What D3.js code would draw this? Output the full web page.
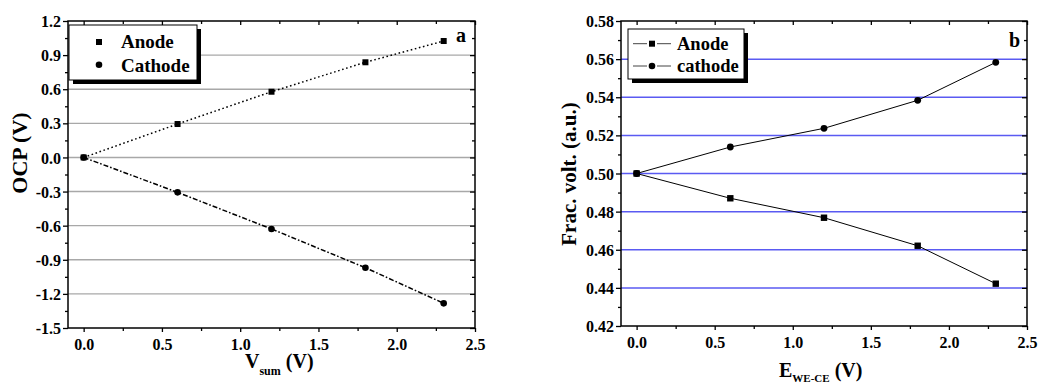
<!DOCTYPE html>
<html><head><meta charset="utf-8">
<script src="https://cdn.jsdelivr.net/npm/d3@7"></script>
<style>
body{margin:0;background:#fff}
svg{display:block}
</style></head>
<body><svg id="chart" width="1038" height="385"></svg>
<script>
// ---- data ----
const xValues = [0, 0.6, 1.2, 1.8, 2.3];
const ocpAnode = [0, 0.294, 0.578, 0.837, 1.024];
const ocpCathode = [0, -0.307, -0.629, -0.97, -1.283];
const fracAnode = [0.5, 0.487, 0.4768, 0.4621, 0.4422];
const fracCathode = [0.5, 0.5139, 0.5237, 0.5384, 0.5583];
const xTicks = [0, 0.5, 1.0, 1.5, 2.0, 2.5];
const xMinorTicks = [0.25, 0.75, 1.25, 1.75, 2.25];
const ocpTicks = [-1.5, -1.2, -0.9, -0.6, -0.3, 0, 0.3, 0.6, 0.9, 1.2];
const ocpGrid = [-1.2, -0.9, -0.6, -0.3, 0, 0.3, 0.6, 0.9];
const ocpMinor = [-1.35, -1.05, -0.75, -0.45, -0.15, 0.15, 0.45, 0.75, 1.05];
const fracTicks = [0.42, 0.44, 0.46, 0.48, 0.50, 0.52, 0.54, 0.56, 0.58];
const fracGrid = [0.44, 0.46, 0.48, 0.50, 0.52, 0.54, 0.56];
const fracMinor = [0.43, 0.45, 0.47, 0.49, 0.51, 0.53, 0.55, 0.57];
const legendA = ["Anode", "Cathode"];
const legendB = ["Anode", "cathode"];

const FONT = "'Liberation Serif', 'Times New Roman', Times, serif";
const svg = d3.select("#chart");

function txt(sel) {
  return sel.style("font-family", FONT).style("font-weight", "bold").attr("fill", "#000");
}

function panel(cfg) {
  const x = d3.scaleLinear().domain([-0.1, 2.5]).range([cfg.left, cfg.right]);
  const y = d3.scaleLinear().domain(cfg.yDomain).range([cfg.bottom, cfg.top]);
  const g = svg.append("g");

  g.selectAll("line.grid").data(cfg.grid).join("line")
    .attr("x1", cfg.left).attr("x2", cfg.right)
    .attr("y1", d => y(d)).attr("y2", d => y(d))
    .attr("stroke", cfg.gridColor).attr("stroke-width", cfg.gridWidth);

  const bottom = g.append("g").attr("transform", `translate(0,${cfg.bottom})`)
    .call(d3.axisBottom(x).tickValues(xTicks).tickSize(4).tickFormat(d => d.toFixed(1)));
  const bottomMinor = g.append("g").attr("transform", `translate(0,${cfg.bottom})`)
    .call(d3.axisBottom(x).tickValues(xMinorTicks).tickSize(3).tickFormat(""));
  const top = g.append("g").attr("transform", `translate(0,${cfg.top})`)
    .call(d3.axisTop(x).tickValues(xTicks).tickSize(-4).tickFormat(""));
  const topMinor = g.append("g").attr("transform", `translate(0,${cfg.top})`)
    .call(d3.axisTop(x).tickValues(xMinorTicks).tickSize(-3).tickFormat(""));
  const left = g.append("g").attr("transform", `translate(${cfg.left},0)`)
    .call(d3.axisLeft(y).tickValues(cfg.yTicks).tickSize(5).tickFormat(cfg.yFmt));
  const leftMinor = g.append("g").attr("transform", `translate(${cfg.left},0)`)
    .call(d3.axisLeft(y).tickValues(cfg.yMinor).tickSize(3).tickFormat(""));
  const right = g.append("g").attr("transform", `translate(${cfg.right},0)`)
    .call(d3.axisRight(y).tickValues(cfg.yTicks).tickSize(-5).tickFormat(""));
  const rightMinor = g.append("g").attr("transform", `translate(${cfg.right},0)`)
    .call(d3.axisRight(y).tickValues(cfg.yMinor).tickSize(-3).tickFormat(""));

  [bottom, bottomMinor, top, topMinor, left, leftMinor, right, rightMinor].forEach(a => {
    a.attr("font-family", null).attr("font-size", null);
    a.select(".domain").remove();
    a.selectAll(".tick line").attr("stroke", "#000").attr("stroke-width", 1.3);
  });
  txt(bottom.selectAll(".tick text")).attr("font-size", 16).attr("dy", 0).attr("y", 22);
  txt(left.selectAll(".tick text")).attr("font-size", 16).attr("x", -7).attr("dy", "0.35em");

  g.append("rect").attr("x", cfg.left).attr("y", cfg.top)
    .attr("width", cfg.right - cfg.left).attr("height", cfg.bottom - cfg.top)
    .attr("fill", "none").attr("stroke", "#000").attr("stroke-width", 1.5);

  return {g, x, y};
}

// ---------- Panel a ----------
const A = panel({left: 68, right: 475, top: 21, bottom: 328, yDomain: [-1.5, 1.2],
  yTicks: ocpTicks, yMinor: ocpMinor, grid: ocpGrid, gridColor: "#a8a8a8", gridWidth: 1.4,
  yFmt: d => d.toFixed(1)});

const ptsAA = xValues.map((v, i) => [v, ocpAnode[i]]);
const ptsAC = xValues.map((v, i) => [v, ocpCathode[i]]);
const lineA = d3.line().x(d => A.x(d[0])).y(d => A.y(d[1]));
A.g.append("path").attr("d", lineA(ptsAA)).attr("fill", "none").attr("stroke", "#000")
  .attr("stroke-width", 1.5).attr("stroke-dasharray", "1.6,2.6");
A.g.append("path").attr("d", lineA(ptsAC)).attr("fill", "none").attr("stroke", "#000")
  .attr("stroke-width", 1.5).attr("stroke-dasharray", "5,2,1.6,2");
A.g.selectAll("rect.m").data(ptsAA).join("rect")
  .attr("x", d => A.x(d[0]) - 3).attr("y", d => A.y(d[1]) - 3)
  .attr("width", 6).attr("height", 6).attr("fill", "#000");
A.g.selectAll("circle.m").data(ptsAC).join("circle")
  .attr("cx", d => A.x(d[0])).attr("cy", d => A.y(d[1])).attr("r", 3.3).attr("fill", "#000");

// legend a
A.g.append("rect").attr("x", 73).attr("y", 29).attr("width", 128).attr("height", 55).attr("fill", "#000");
A.g.append("rect").attr("x", 69).attr("y", 25).attr("width", 128).attr("height", 55)
  .attr("fill", "#fff").attr("stroke", "#000").attr("stroke-width", 1);
A.g.append("rect").attr("x", 96).attr("y", 39).attr("width", 6).attr("height", 6).attr("fill", "#000");
A.g.append("circle").attr("cx", 99).attr("cy", 64.7).attr("r", 3.3).attr("fill", "#000");
txt(A.g.selectAll("text.leg").data(legendA).join("text"))
  .attr("x", 121).attr("y", (d, i) => 48 + i * 23.5).attr("font-size", 19).text(d => d);
txt(A.g.append("text")).attr("x", 456).attr("y", 42).attr("font-size", 20).text("a");

// axis titles a
txt(A.g.append("text")).attr("transform", "translate(27,153) rotate(-90)")
  .attr("text-anchor", "middle").attr("font-size", 22).text("OCP (V)");
const xtA = txt(A.g.append("text")).attr("x", 245).attr("y", 368).attr("font-size", 20);
xtA.append("tspan").text("V");
xtA.append("tspan").attr("font-size", 12).attr("dy", 7).text("sum");
xtA.append("tspan").attr("dy", -7).text(" (V)");

// ---------- Panel b ----------
const B = panel({left: 621, right: 1027, top: 21, bottom: 326, yDomain: [0.42, 0.58],
  yTicks: fracTicks, yMinor: fracMinor, grid: fracGrid, gridColor: "#5a5af2", gridWidth: 1.5,
  yFmt: d => d.toFixed(2)});

const ptsBA = xValues.map((v, i) => [v, fracAnode[i]]);
const ptsBC = xValues.map((v, i) => [v, fracCathode[i]]);
const lineB = d3.line().x(d => B.x(d[0])).y(d => B.y(d[1]));
[ptsBA, ptsBC].forEach(p => B.g.append("path").attr("d", lineB(p)).attr("fill", "none")
  .attr("stroke", "#000").attr("stroke-width", 1));
B.g.selectAll("rect.m").data(ptsBA).join("rect")
  .attr("x", d => B.x(d[0]) - 3.2).attr("y", d => B.y(d[1]) - 3.2)
  .attr("width", 6.4).attr("height", 6.4).attr("fill", "#000");
B.g.selectAll("circle.m").data(ptsBC).join("circle")
  .attr("cx", d => B.x(d[0])).attr("cy", d => B.y(d[1])).attr("r", 3.4).attr("fill", "#000");

// legend b
B.g.append("rect").attr("x", 632).attr("y", 33).attr("width", 116).attr("height", 50).attr("fill", "#000");
B.g.append("rect").attr("x", 628).attr("y", 29).attr("width", 116).attr("height", 50)
  .attr("fill", "#fff").attr("stroke", "#000").attr("stroke-width", 1);
[43.7, 66].forEach((cy, i) => {
  B.g.append("line").attr("x1", 633).attr("x2", 647).attr("y1", cy).attr("y2", cy).attr("stroke", "#444").attr("stroke-width", 1);
  B.g.append("line").attr("x1", 657).attr("x2", 671).attr("y1", cy).attr("y2", cy).attr("stroke", "#444").attr("stroke-width", 1);
  if (i === 0) B.g.append("rect").attr("x", 649).attr("y", cy - 3).attr("width", 6).attr("height", 6).attr("fill", "#000");
  else B.g.append("circle").attr("cx", 652).attr("cy", cy).attr("r", 3.3).attr("fill", "#000");
});
txt(B.g.selectAll("text.leg").data(legendB).join("text"))
  .attr("x", 677).attr("y", (d, i) => 49.5 + i * 22.3).attr("font-size", 18.5).text(d => d);
txt(B.g.append("text")).attr("x", 1009).attr("y", 47).attr("font-size", 20).text("b");

// axis titles b
txt(B.g.append("text")).attr("transform", "translate(576,174) rotate(-90)")
  .attr("text-anchor", "middle").attr("font-size", 21).text("Frac. volt. (a.u.)");
const xtB = txt(B.g.append("text")).attr("x", 779).attr("y", 377).attr("font-size", 20);
xtB.append("tspan").text("E");
xtB.append("tspan").attr("font-size", 11).attr("dy", 5).text("WE-CE");
xtB.append("tspan").attr("dy", -5).text(" (V)");
</script>
</body></html>
